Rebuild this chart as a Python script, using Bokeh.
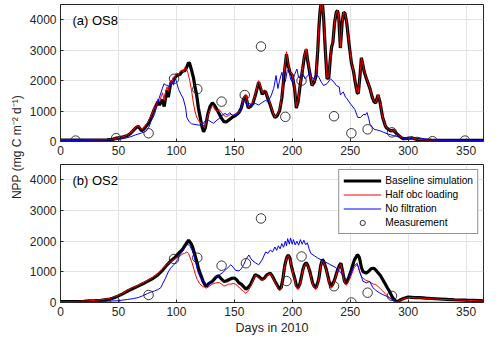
from bokeh.plotting import figure
from bokeh.layouts import column, row
from bokeh.models import Label, Legend, LegendItem, Range1d, FixedTicker
from bokeh.embed import file_html
from bokeh.resources import INLINE

# ---------------- data (day of 2010, NPP mg C m^-2 d^-1) ----------------
x_ticks = [0, 50, 100, 150, 200, 250, 300, 350]
y_ticks = [0, 1000, 2000, 3000, 4000]

os8_baseline = [(0,50),(10,45),(20,45),(30,50),(40,55),(45,70),(48,110),(52,130),(55,160),(58,200),(60,250),
    (62.5,350),(65,450),(67,500),(70,350),(72,420),(74,510),(76,600),(78,780),(81,1060),(84,1310),(85.5,1200),
    (87,1320),(88,1370),(89.5,1150),(91,1500),(92,1690),(93,1450),(95,1900),(97,1980),(100,2160),(103,2200),
    (105,2300),(107.5,2330),(109,2450),(110.5,2590),(111.5,2560),(113,2350),(114.7,2100),(116,1800),(117.5,1530),
    (119,1100),(120.5,800),(122,500),(123.5,320),(125,450),(127,880),(129,1150),(131,1270),(133,1180),(135,1050),
    (137,900),(139,760),(141,650),(143,640),(145,700),(148,790),(151,850),(154,950),(156,1100),(158,1400),
    (160,1500),(162,1100),(164,1150),(166,1250),(168,1500),(171,1950),(173,1700),(174,1550),(176,1640),(177,1630),
    (179,1400),(181,1200),(183,950),(185,790),(187,850),(189,1000),(191,1420),(193,2200),(195,2870),(196.5,2500),
    (198,2270),(200,2170),(202,1740),(203.5,1100),(205,1300),(207,1900),(209,2400),(210.5,2800),(212,3020),
    (213.5,2600),(215,2270),(217,1840),(219,1950),(220.5,2160),(222,3000),(223,3770),(224,4300),(225,4600),
    (226,4550),(227,4080),(228.5,3000),(230,2060),(231.5,2100),(233,2800),(234,3120),(235,3240),(236.5,3900),
    (238,4250),(239,4300),(240,4130),(241.5,3070),(243,3900),(244.3,4250),(245.5,4200),(247,3900),(249,3200),
    (251,2590),(253,2270),(254.5,1900),(256,1600),(257,1580),(258.5,2200),(259.6,2750),(260.5,2600),(262,2300),
    (264,2060),(265.5,1900),(267,1740),(269,1450),(270.5,1310),(272,1260),(273,1400),(274,1526),(275.6,1310),
    (277,1000),(278,790),(280,550),(281,460),(283,400),(285,350),(287,370),(289,300),(292,190),(294,130),
    (296,90),(299,100),(303,120),(306,80),(308,60),(312,50),(320,45),(330,40),(340,40),(350,35),(365,35)]

os8_half_obc = [(0,50),(10,45),(20,45),(30,50),(40,55),(45,75),(48,110),(52,140),(55,170),(58,220),(60,270),
    (62.5,380),(65,470),(67,520),(70,400),(72,470),(74,560),(76,680),(78,850),(80,1000),(81,1150),(82,1050),
    (84,1400),(85.5,1300),(87,1500),(88,1600),(89.5,1350),(91,1700),(92,1800),(93,1650),(95,2000),(96,1900),
    (97,2100),(99,2150),(100,2250),(102,2200),(103,2300),(105,2350),(106,2280),(107.5,2450),(108.5,2400),
    (110,2250),(111.5,2000),(113,1700),(114.5,1300),(116,1000),(117.5,800),(119,700),(121,600),(123,550),
    (124.5,450),(126,700),(128,950),(130,1100),(131.5,1200),(133,1050),(135,1000),(137,1050),(139,950),
    (141,850),(143,820),(145,850),(147,900),(149,850),(151,900),(154,980),(156,1100),(158,1450),(160,1550),
    (162,1150),(164,1200),(166,1300),(168,1550),(171,2000),(173,1750),(174,1600),(176,1700),(177,1650),
    (179,1420),(181,1250),(183,980),(185,800),(187,870),(189,1050),(191,1500),(193,2300),(195,2950),(196.5,2550),
    (198,2300),(200,2200),(202,1780),(203.5,1150),(205,1350),(207,1950),(209,2450),(210.5,2850),(212,3050),
    (213.5,2650),(215,2300),(217,1860),(219,1980),(220.5,2200),(222,3050),(223,3800),(224,4300),(225,4600),
    (226,4550),(227,4100),(228.5,3050),(230,2080),(231.5,2150),(233,2850),(234,3150),(235,3250),(236.5,3920),
    (238,4260),(239,4300),(240,4150),(241.5,3100),(243,3920),(244.3,4260),(245.5,4200),(247,3920),(249,3220),
    (251,2600),(253,2280),(254.5,1920),(256,1620),(257,1600),(258.5,2220),(259.6,2760),(260.5,2620),(262,2320),
    (264,2080),(265.5,1920),(267,1750),(269,1460),(270.5,1320),(272,1270),(273,1410),(274,1540),(275.6,1320),
    (277,1010),(278,800),(280,560),(281,470),(283,410),(285,360),(287,380),(289,310),(292,200),(294,140),
    (296,100),(299,110),(303,130),(306,90),(308,70),(312,55),(320,48),(330,42),(340,40),(350,36),(365,35)]

os8_no_filtration = [(0,30),(10,30),(20,35),(30,50),(40,50),(48,60),(55,100),(60,150),(65,220),(70,280),
    (73.6,330),(76,450),(78,650),(81,880),(83,1150),(85,1400),(86,1526),(88,1750),(89.3,1900),(91,1850),
    (92,1850),(94,1800),(96,1950),(97.5,1850),(99,2100),(100.5,1900),(102,1700),(104,1550),(106,1400),(108,1100),
    (109,790),(111,650),(113,580),(116,560),(119,540),(122,530),(125,690),(127,720),(128,690),(130,640),
    (132,600),(135,700),(138,790),(140,880),(142,920),(144,870),(146,950),(148,860),(151,890),(154,900),
    (157,1270),(159,1350),(161,1150),(163,1250),(165,1200),(168,1250),(171,1200),(174,1280),(177,1350),
    (179,1300),(182,1526),(184,1750),(186,2166),(187.6,1740),(189,2000),(191,2270),(192.5,2000),(194,1960),
    (195.5,2300),(197,2380),(198.5,2050),(200,1960),(202,2200),(204,2380),(205.5,2100),(207,2110),(209,2250),
    (211,2060),(213,2150),(215.5,2270),(217,2100),(219,2060),(221,2200),(223,2110),(225,1950),(227,1840),
    (230,1900),(233,2060),(236,1950),(238,1840),(240.5,1790),(241.5,1530),(244,1630),(246,1450),(247,1420),
    (249,1300),(251,1200),(254,1050),(256.5,790),(259,790),(261.7,900),(263,870),(264.5,950),(266,750),
    (267,570),(270.6,400),(273,380),(276,350),(279,300),(282,250),(285,220),(287.6,190),(292,150),(295,110),
    (298,80),(300,90),(303,110),(305,130),(308,140),(311,110),(314,90),(318,60),(325,40),(340,35),(365,30)]

os8_meas_day = [13, 48, 76, 98, 118, 139, 159, 173, 194, 208, 236, 251, 265, 286, 321, 349]
os8_meas_npp = [30, 110, 270, 2060, 1720, 1310, 1526, 3120, 810, 2000, 830, 270, 400, 300, 10, 30]

os2_baseline = [(0,30),(10,30),(20,40),(24.5,50),(30,60),(35,70),(41,100),(45,140),(50,215),(54,290),(58,375),
    (62,450),(67,535),(71,610),(75,690),(80,790),(84,900),(88,1050),(92,1230),(95,1350),(98,1440),(100,1520),
    (103,1650),(105,1720),(107.6,1870),(109,1950),(110.5,2030),(111.5,1980),(113,1900),(114.5,1750),(116,1550),
    (117.5,1350),(119,1120),(121,900),(123,690),(125,560),(126,535),(128,620),(131,690),(134,820),(136,870),
    (137,850),(139,760),(141,690),(143,700),(145.6,750),(148,790),(150,800),(152,740),(154,640),(156,600),
    (158,520),(160,430),(162,500),(164,590),(166,750),(168,910),(171,850),(174,750),(176,800),(178,900),
    (181,960),(183,850),(185,700),(186.6,590),(189,430),(190.5,500),(192,800),(193.5,1200),(195,1440),
    (196.5,1550),(198,1450),(199,1230),(200.5,1000),(202,800),(203.5,560),(205,480),(206.5,600),(207.7,800),
    (209,1050),(210.5,1230),(212,1300),(213.5,1200),(215,1030),(216.5,800),(217.5,640),(219,520),(220.5,480),
    (222,650),(223,800),(224.5,1200),(226,1400),(227,1350),(229,1120),(230.5,900),(232,650),(233.5,520),
    (235,600),(237,800),(239,1050),(240.5,1200),(242,1280),(243.5,1000),(245,700),(246.5,620),(248,750),
    (250,950),(252,1200),(253.6,1390),(255,1480),(256,1550),(257,1530),(258,1450),(259.6,1150),(261,1010),
    (263.6,960),(266,1020),(268,1100),(269.6,1120),(271,1100),(272,1060),(274,970),(276,880),(278,750),
    (280,620),(282,480),(283.7,375),(286,200),(287.7,100),(289,50),(291,30),(293,80),(296,130),(300,180),
    (303,170),(306,160),(310,160),(315,140),(320,130),(327,115),(334,100),(340,90),(350,75),(362,60),(365,55)]

os2_half_obc = [(0,30),(10,30),(20,45),(25,55),(30,70),(35,90),(41,120),(45,160),(50,230),(54,310),(58,400),
    (62,480),(67,570),(71,640),(75,720),(80,830),(84,950),(88,1100),(92,1250),(95,1320),(98,1400),(100,1450),
    (103,1500),(105,1580),(107,1600),(109,1650),(110.5,1600),(112,1450),(113.5,1300),(115,1100),(116.5,900),
    (118,750),(120,620),(122,540),(124,500),(126,470),(128,520),(131,600),(134,640),(137,650),(139,600),
    (141,535),(143,560),(145,600),(147,600),(149,620),(151,600),(154,500),(156,420),(158,360),(160,300),
    (162,380),(164,520),(166,700),(168,880),(171,820),(174,720),(176,780),(178,880),(181,940),(183,820),
    (185,650),(186.6,540),(189,380),(190.5,450),(192,780),(193.5,1180),(195,1420),(196.5,1530),(198,1420),
    (199,1200),(200.5,950),(202,750),(203.5,500),(205,420),(206.5,560),(207.7,770),(209,1020),(210.5,1200),
    (212,1280),(213.5,1180),(215,1000),(216.5,760),(217.5,600),(219,470),(220.5,420),(222,620),(223,780),
    (224.5,1180),(226,1380),(227,1320),(229,1090),(230.5,860),(232,600),(233.5,460),(235,560),(237,770),
    (239,1020),(240.5,1170),(242,1250),(243.5,950),(245,650),(246.5,560),(248,650),(250,800),(252,1000),
    (253.6,1150),(255,1200),(256,1230),(257,1150),(258,1000),(259.6,850),(261,800),(263.6,720),(266,690),
    (268,640),(270,600),(272,590),(274,520),(276,450),(278,375),(280,300),(282,220),(283.7,160),(286,80),
    (288,30),(290,20),(293,70),(296,120),(300,160),(303,160),(306,150),(310,150),(315,130),(320,120),
    (327,105),(334,95),(340,85),(350,70),(362,55),(365,50)]

os2_no_filtration = [(0,20),(10,20),(20,25),(30,30),(40,40),(50,60),(58,100),(63,130),(67,160),(71,220),
    (75,290),(78,340),(81,375),(84,420),(86.5,480),(88,600),(90.7,800),(93,1000),(95,1120),(97,1200),(99,1280),
    (101,1400),(103,1550),(105,1650),(107.6,1810),(110,1900),(112,1820),(113.5,1700),(115,1550),(117,1250),
    (119,950),(121,800),(123,690),(125,600),(127,535),(129.6,690),(132,780),(134,850),(137,900),(139.5,960),
    (142,1050),(144,1120),(147,1230),(149,1150),(151,1050),(154,1030),(156,1100),(158,1230),(160,1400),
    (162.5,1550),(165,1390),(168,1300),(171,1230),(174,1390),(177,1650),(179,1600),(181,1710),(183,1650),
    (185,1810),(186.5,1700),(188,1850),(189.5,1750),(191,1920),(192.5,1800),(194,2000),(195,1850),(196,2080),
    (197.5,1900),(198.5,2100),(200,1900),(201,2050),(202.5,1880),(204,2000),(205.5,1870),(207,2050),
    (208.5,1900),(210,2030),(211.5,1880),(213,1950),(214.5,1750),(216,1600),(218,1550),(222,1450),(227,1350),
    (232,1250),(237,1150),(241.5,1000),(244,850),(247,750),(250,900),(253,1180),(256,1280),(258.6,960),
    (261,690),(264,640),(266.8,690),(269.6,480),(272,400),(275,320),(278,260),(281,210),(284,150),(287,100),
    (290,20),(295,10),(300,10),(330,5),(365,5)]

os2_meas_day = [47, 76, 98, 118, 139, 160, 173, 195, 208, 236, 251, 265, 286]
os2_meas_npp = [30, 246, 1420, 1460, 1200, 1280, 2740, 700, 1500, 530, 0, 320, 215]

legend_labels = ["Baseline simulation", "Half obc loading", "No filtration", "Measurement"]
panel_titles = ["(a) OS8", "(b) OS2"]
x_label = "Days in 2010"
y_label = "NPP (mg C m\u207b\u00b2 d\u207b\u00b9)"

# ---------------- styling ----------------
FONT = "Liberation Sans"
AXC = "#262626"
GRID = "#e3e3e3"


def split(pairs):
    return [a for a, b in pairs], [b for a, b in pairs]


def style_panel(p):
    p.outline_line_color = AXC
    p.outline_line_width = 1
    p.background_fill_color = "white"
    p.border_fill_color = "white"
    for ax in list(p.below) + list(p.left):
        ax.axis_line_color = AXC
        ax.major_tick_line_color = AXC
        ax.major_tick_in = 3
        ax.major_tick_out = 0
        ax.minor_tick_line_color = None
        ax.major_label_text_font = FONT
        ax.major_label_text_font_size = "12px"
        ax.major_label_text_color = AXC
        ax.major_label_standoff = 4
    p.below[0].ticker = FixedTicker(ticks=x_ticks)
    p.left[0].ticker = FixedTicker(ticks=y_ticks)
    p.xgrid.ticker = FixedTicker(ticks=x_ticks)
    p.ygrid.ticker = FixedTicker(ticks=y_ticks)
    p.xgrid.grid_line_color = GRID
    p.ygrid.grid_line_color = GRID


def make_panel(height, btop, bbot, baseline, half, nofilt, mday, mval, title, xlabel=None):
    p = figure(width=458, height=height, x_range=Range1d(0, 365), y_range=Range1d(0, 4500),
               output_backend="svg", toolbar_location=None,
               min_border_left=31, min_border_right=1, min_border_top=btop, min_border_bottom=bbot)
    style_panel(p)
    bx, by = split(baseline)
    hx, hy = split(half)
    nx, ny = split(nofilt)
    r1 = p.line(bx, by, line_color="black", line_width=3.2)
    r2 = p.line(hx, hy, line_color="#ff0000", line_width=1)
    r3 = p.line(nx, ny, line_color="#0000ff", line_width=1)
    r4 = p.scatter(mday, mval, marker="circle", size=9.5, fill_color=None,
                   line_color="#222222", line_width=0.9)
    p.add_layout(Label(x=10.3, y=3975, text=title, text_font=FONT, text_font_size="13px",
                       text_color="black", text_baseline="middle"))
    if xlabel:
        ax = p.below[0]
        ax.axis_label = xlabel
        ax.axis_label_text_font = FONT
        ax.axis_label_text_font_size = "12.5px"
        ax.axis_label_text_font_style = "normal"
        ax.axis_label_text_color = AXC
        ax.axis_label_standoff = 2
    return p, (r1, r2, r3, r4)


top, _ = make_panel(161, 4, 20, os8_baseline, os8_half_obc, os8_no_filtration,
                    os8_meas_day, os8_meas_npp, panel_titles[0])
bot, rs = make_panel(176, 3, 10, os2_baseline, os2_half_obc, os2_no_filtration,
                     os2_meas_day, os2_meas_npp, panel_titles[1], xlabel=x_label)

legend = Legend(items=[LegendItem(label=lab, renderers=[r]) for lab, r in zip(legend_labels, rs)],
                location="top_right", orientation="vertical")
legend.label_text_font = FONT
legend.label_text_font_size = "10.2px"
legend.label_text_color = "black"
legend.glyph_width = 38
legend.glyph_height = 13
legend.label_height = 13
legend.label_standoff = 4
legend.spacing = 1
legend.padding = 4
legend.margin = 5
legend.border_line_color = AXC
legend.border_line_width = 1
legend.background_fill_alpha = 1
bot.add_layout(legend)

# y label panel spanning both axes
lab = figure(width=26, height=337, x_range=Range1d(0, 1), y_range=Range1d(0, 1),
             output_backend="svg", toolbar_location=None,
             min_border_left=0, min_border_right=0, min_border_top=0, min_border_bottom=0)
lab.axis.visible = False
lab.grid.visible = False
lab.outline_line_color = None
lab.border_fill_color = "white"
lab.add_layout(Label(x=0.62, y=0.565, text=y_label, angle=1.5707963,
                     text_font=FONT, text_font_size="12px", text_color=AXC,
                     text_align="center", text_baseline="middle"))

layout = row(lab, column(top, bot, spacing=0), spacing=0)

open("out.html", "w").write(file_html(layout, INLINE))
